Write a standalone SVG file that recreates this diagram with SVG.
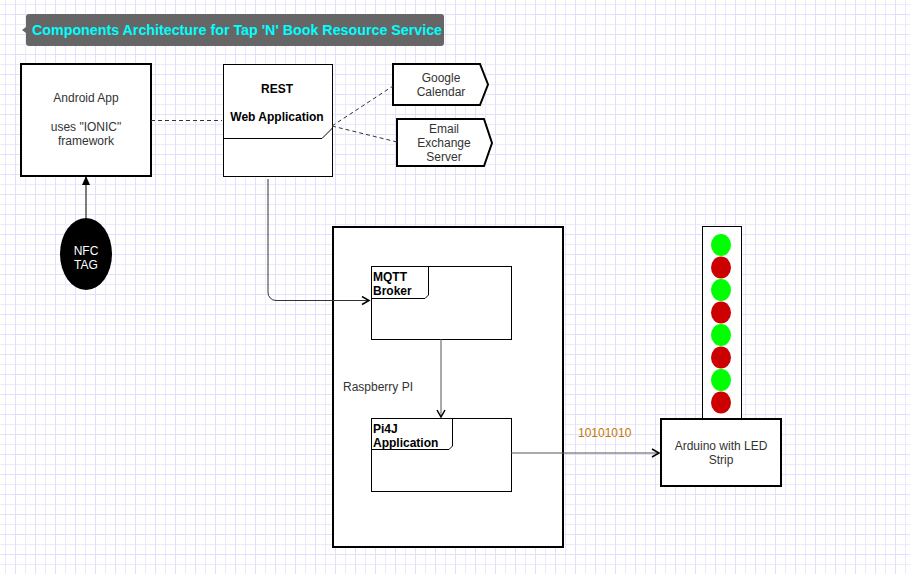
<svg xmlns="http://www.w3.org/2000/svg" width="910" height="574" viewBox="0 0 910 574">
<style>
.t{font-family:"Liberation Sans",Arial,sans-serif;font-size:12px;fill:#333}
.b{font-family:"Liberation Sans",Arial,sans-serif;font-size:12px;font-weight:bold;fill:#000}
.box{fill:#fff;stroke:#000}
.thick{stroke-width:2}
.thin{stroke-width:1}
.dash{fill:none;stroke:#333;stroke-dasharray:4 3}
</style>
<defs>
<pattern id="g" x="5" y="4" width="20" height="20" patternUnits="userSpaceOnUse">
<path d="M0.5 0V20M10.5 0V20" stroke="#ebe9fb" stroke-width="1" fill="none"/>
<path d="M0 0.5H20M0 10.5H20" stroke="#ebe9fb" stroke-width="1" fill="none"/>
<path d="M10.5 0V20M0 10.5H20" stroke="#e2dff8" stroke-width="1" fill="none"/>
</pattern>
<marker id="open" markerWidth="10" markerHeight="10" refX="8" refY="5" orient="auto" markerUnits="userSpaceOnUse">
<path d="M1 1L8 5L1 9" fill="none" stroke="#000" stroke-width="1.5"/>
</marker>
<marker id="fill" markerWidth="10" markerHeight="10" refX="8" refY="5" orient="auto" markerUnits="userSpaceOnUse">
<path d="M0 1L9 5L0 9Z" fill="#000"/>
</marker>
</defs>
<rect width="910" height="574" fill="#fff"/>
<rect width="910" height="574" fill="url(#g)"/>

<g id="title">
<path d="M29 14H441a3 3 0 0 1 3 3V43a3 3 0 0 1-3 3H29a3 3 0 0 1-3-3V33L22 30L26 27V17a3 3 0 0 1 3-3Z" fill="#666"/>
<text x="32" y="35" textLength="410" lengthAdjust="spacingAndGlyphs" font-family="Liberation Sans,Arial,sans-serif" font-size="14" font-weight="bold" fill="#00ffff">Components Architecture for Tap 'N' Book Resource Service</text>
</g>

<g id="android">
<rect x="21" y="64" width="130" height="112" class="box thick"/>
<text class="t" text-anchor="middle" x="86" y="102">Android App</text>
<text class="t" text-anchor="middle" x="86" y="131">uses "IONIC"</text>
<text class="t" text-anchor="middle" x="86" y="145">framework</text>
</g>

<g id="nfc">
<ellipse cx="86" cy="254" rx="26" ry="36" fill="#000"/>
<text text-anchor="middle" x="86" y="255" font-family="Liberation Sans,Arial,sans-serif" font-size="12" fill="#fff">NFC</text>
<text text-anchor="middle" x="86" y="269" font-family="Liberation Sans,Arial,sans-serif" font-size="12" fill="#fff">TAG</text>
</g>

<g id="rest">
<rect x="223.5" y="64.5" width="109" height="112" class="box thin"/>
<path d="M223.5 138.5H322L332.5 128" fill="none" stroke="#000"/>
<text class="b" text-anchor="middle" x="277" y="93">REST</text>
<text class="b" text-anchor="middle" x="277" y="121">Web Application</text>
</g>

<g id="google">
<path d="M393 64H480L488 84.5L480 105H393Z" class="box thick"/>
<text class="t" text-anchor="middle" x="441" y="82">Google</text>
<text class="t" text-anchor="middle" x="441" y="96">Calendar</text>
</g>

<g id="email">
<path d="M397 119H484L492 143L484 166H397Z" class="box thick"/>
<text class="t" text-anchor="middle" x="444" y="133">Email</text>
<text class="t" text-anchor="middle" x="444" y="147">Exchange</text>
<text class="t" text-anchor="middle" x="444" y="161">Server</text>
</g>

<g id="raspberry">
<rect x="333" y="227" width="230" height="320" class="box thick"/>
<text class="t" x="343" y="391">Raspberry PI</text>
</g>

<g id="mqtt">
<rect x="371.5" y="266.5" width="140" height="73" class="box thin"/>
<path d="M371.5 298.5H425L428.5 295V266.5" fill="none" stroke="#000"/>
<text class="b" x="373" y="281">MQTT</text>
<text class="b" x="373" y="295">Broker</text>
</g>

<g id="pi4j">
<rect x="371.5" y="418.5" width="140" height="73" class="box thin"/>
<path d="M371.5 449.5H449L452.5 446V418.5" fill="none" stroke="#000"/>
<text class="b" x="373" y="433">Pi4J</text>
<text class="b" x="373" y="447">Application</text>
</g>

<g id="ledstrip">
<rect x="702.5" y="226.5" width="39" height="193" class="box thin"/>
<ellipse cx="721" cy="245" rx="10" ry="11" fill="#00ff00"/>
<ellipse cx="721" cy="267.5" rx="10" ry="11" fill="#cc0000"/>
<ellipse cx="721" cy="290" rx="10" ry="11" fill="#00ff00"/>
<ellipse cx="721" cy="312.5" rx="10" ry="11" fill="#cc0000"/>
<ellipse cx="721" cy="335" rx="10" ry="11" fill="#00ff00"/>
<ellipse cx="721" cy="357.5" rx="10" ry="11" fill="#cc0000"/>
<ellipse cx="721" cy="380" rx="10" ry="11" fill="#00ff00"/>
<ellipse cx="721" cy="402.5" rx="10" ry="11" fill="#cc0000"/>
</g>

<g id="arduino">
<rect x="661" y="419" width="120" height="67" class="box thick"/>
<text class="t" text-anchor="middle" x="721" y="450">Arduino with LED</text>
<text class="t" text-anchor="middle" x="721" y="464">Strip</text>
</g>

<g id="connectors">
<line x1="151" y1="120.5" x2="222" y2="120.5" class="dash"/>
<line x1="332" y1="126" x2="393" y2="86" class="dash"/>
<line x1="332" y1="126" x2="397" y2="142" class="dash"/>
<line x1="86" y1="218" x2="86" y2="177" stroke="#555" stroke-width="1.5" marker-end="url(#fill)"/>
<path d="M268 179V292a8 8 0 0 0 8 8.5H369" fill="none" stroke="#333" stroke-width="1" marker-end="url(#open)"/>
<line x1="441" y1="339" x2="441" y2="417" stroke="#555" stroke-width="1" marker-end="url(#open)"/>
<line x1="511" y1="453" x2="659" y2="453" stroke="#555" stroke-width="1" marker-end="url(#open)"/>
<text x="578" y="437" font-family="Liberation Sans,Arial,sans-serif" font-size="12" fill="#c77700">10101010</text>
</g>
</svg>
